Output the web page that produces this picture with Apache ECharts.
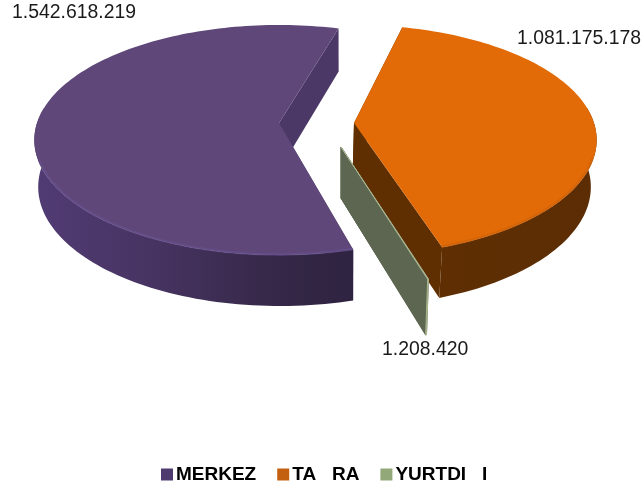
<!DOCTYPE html>
<html>
<head>
<meta charset="utf-8">
<style>html,body{margin:0;padding:0;background:#fff}#c{width:642px;height:491px}</style>
<script src="https://cdn.jsdelivr.net/npm/echarts@6/dist/echarts.min.js"></script>
</head>
<body>
<div id="c"></div>
<script>
var categories = ['MERKEZ', 'TA   RA', 'YURTDI   I'];
var values = [1542618219, 1081175178, 1208420];

var firstAngle = 73.46;
var tilt = { radiusY: 112.5, persp: 0.148, depth: 43, depthGrow: 0.035 };
var sliceStyles = [
  { cx: 279, cy: 123, r: 242, scale: 1, twist: 1.3, extraDepth: 0, vanishX: 345, shrink: 0.9875,
    top: '#5f4779', rim: '#67508c', cut: '#4b3867',
    side: [[0, '#513b74'], [0.35, '#483463'], [0.75, '#352848'], [1, '#2e2340']],
    label: { x: 12, y: 13 } },
  { cx: 354, cy: 123, r: 240, scale: 1, twist: -1.7, extraDepth: 0, vanishX: 290, shrink: 0.981,
    top: '#e26b07', rim: '#cf6208', cut: '#5f2f02',
    side: [[0, '#5f2f03'], [1, '#5c2d04']],
    label: { x: 517, y: 39 } },
  { cx: 341, cy: 147, r: 242, scale: 1.055, twist: -0.4, extraDepth: 4, vanishX: 341, shrink: 0.977,
    top: '#a9b48e', rim: '#a9b48e', cut: '#5d6650',
    side: [[0, '#7d8670'], [1, '#7d8670']],
    label: { x: 382, y: 350 } }
];
var legendColors = ['#4f3a70', '#c2600f', '#93a878'];

function fmt(n) { return String(n).replace(/\B(?=(\d{3})+$)/g, '.'); }

function topPt(st, deg, inset) {
  var a = deg * Math.PI / 180, u = Math.cos(a), v = Math.sin(a), f = 1 / (1 - tilt.persp * v);
  var s = st.scale - (inset || 0);
  return [st.cx + st.r * s * u * f, st.cy + tilt.radiusY * s * v * f];
}
function drop(st, p) {
  return [st.vanishX + (p[0] - st.vanishX) * st.shrink,
          p[1] + tilt.depth + st.extraDepth + (p[1] - 27) * tilt.depthGrow];
}
function arc(st, a0, a1, minSin, inset) {
  var pts = [], n = Math.max(2, Math.ceil((a1 - a0) / 1.5));
  for (var i = 0; i <= n; i++) {
    var d = a0 + (a1 - a0) * i / n;
    if (Math.sin(d * Math.PI / 180) > minSin) pts.push(topPt(st, d, inset));
  }
  return pts;
}
function sliceRange(idx) {
  var total = values.reduce(function (s, x) { return s + x; }, 0), a = firstAngle;
  for (var i = 0; i < idx; i++) a += values[i] / total * 360;
  return [a + sliceStyles[idx].twist, a + values[idx] / total * 360 + sliceStyles[idx].twist];
}
function poly(points, fill, z2, stroke) {
  return { type: 'polygon', z2: z2, shape: { points: points },
    style: { fill: fill, stroke: stroke || null, lineWidth: stroke ? 1 : 0 } };
}
function makeRender(idx) {
  return function () {
    var st = sliceStyles[idx], r = sliceRange(idx), a0 = r[0], a1 = r[1];
    var rim = arc(st, a0, a1, -2, 0), front = arc(st, a0, a1, -0.15, 0);
    var ap = [st.cx, st.cy], apB = drop(st, ap);
    var children = [];
    var s0 = rim[0], s1 = rim[rim.length - 1];
    var edge = idx === 2 ? st.cut : null;
    children.push(poly([ap, s0, drop(st, s0), apB], st.cut, 1, edge));
    children.push(poly([ap, s1, drop(st, s1), apB], st.cut, 1, edge));
    if (front.length > 1) {
      var sidePts = front.concat(front.slice().reverse().map(function (p) { return drop(st, p); }));
      children.push(poly(sidePts, new echarts.graphic.LinearGradient(0, 0, 1, 0,
        st.side.map(function (c) { return { offset: c[0], color: c[1] }; })), 2, idx === 2 ? st.rim : null));
    }
    children.push(poly([ap].concat(rim), st.top, 3, idx === 2 ? st.top : null));
    var bevel = arc(st, a0, a1, 0.3, idx === 2 ? 0 : 0.005);
    if (bevel.length > 1 && idx !== 2) {
      children.push({ type: 'polyline', z2: 4, shape: { points: bevel },
        style: { fill: null, stroke: st.rim, lineWidth: 2.5, opacity: 0.7 } });
    }
    children.push({ type: 'text', z2: 5, style: {
      text: fmt(values[idx]), x: st.label.x, y: st.label.y, fill: '#1a1a1a',
      font: '19.4px "Liberation Sans", Arial, sans-serif', align: 'left', verticalAlign: 'middle' } });
    return { type: 'group', children: children };
  };
}

var chart = echarts.init(document.getElementById('c'), null, { renderer: 'canvas' });
chart.setOption({
  animation: false,
  backgroundColor: '#ffffff',
  legend: {
    left: 161, top: 465, orient: 'horizontal', itemWidth: 12, itemHeight: 12, itemGap: 21,
    icon: 'rect', padding: 0,
    textStyle: { fontFamily: '"Liberation Sans", Arial, sans-serif', fontWeight: 'bold', fontSize: 19, color: '#000', padding: [0, 0, 0, -2] },
    data: categories.map(function (c, i) { return { name: c, itemStyle: { color: legendColors[i] } }; })
  },
  series: categories.map(function (c, i) {
    return {
      type: 'custom', name: c, coordinateSystem: 'none', z: 2 + i,
      itemStyle: { color: legendColors[i] },
      data: [values[i]], renderItem: makeRender(i)
    };
  })
});
</script>
</body>
</html>
